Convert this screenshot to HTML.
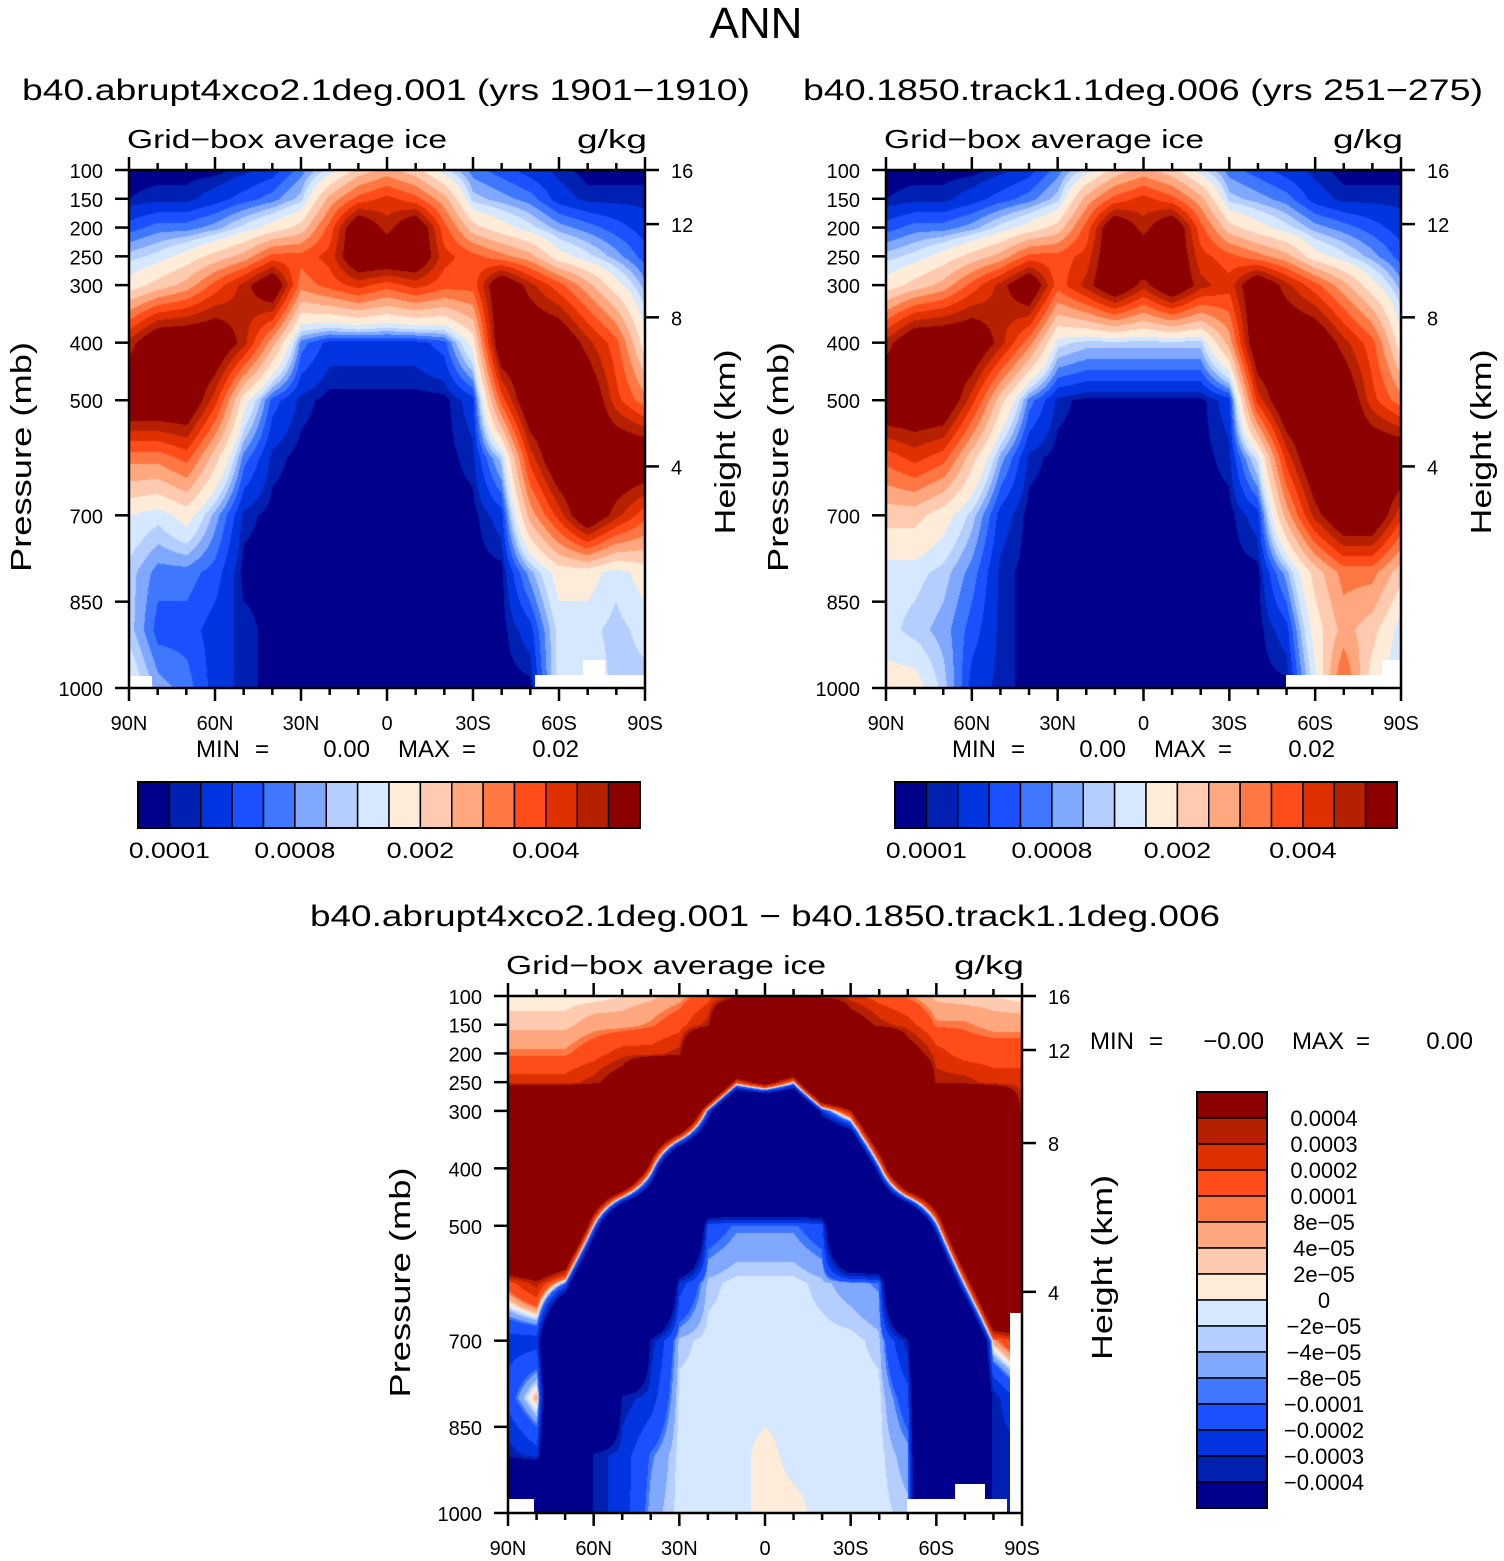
<!DOCTYPE html>
<html><head><meta charset="utf-8"><style>
html,body{margin:0;padding:0;background:#fff;}
#wrap{position:relative;width:1504px;height:1561px;overflow:hidden;}
canvas{position:absolute;}
svg{position:absolute;left:0;top:0;}
text{font-family:"Liberation Sans",sans-serif;fill:#000;}
</style></head><body>
<div id="wrap">
<canvas id="c1" width="516" height="518" style="left:129px;top:170px"></canvas>
<canvas id="c2" width="515" height="518" style="left:886px;top:170px"></canvas>
<canvas id="c3" width="514" height="517" style="left:508px;top:996px"></canvas>
<svg id="ov" width="1504" height="1561"></svg>
</div>
<script>
// ---- data ----
const lats = [90,80,70,60,50,40,30,20,10,0,-10,-20,-30,-40,-50,-60,-70,-80,-90];
const pres = [100,150,200,250,300,400,500,600,700,800,900,1000];
const latTickLabels = ["90N","60N","30N","0","30S","60S","90S"];
const presTickLabels = [100,150,200,250,300,400,500,700,850,1000];
const kmTicks = [[16,100],[12,194],[8,356],[4,615]]; // km label, pressure at that height
// field in 1e-4 g/kg, one row per latitude (columns = pressure levels)
const fieldA = [
[0.5,1,5,11,17,47,60,32,15,11,11,15],
[0.5,1.5,7,13,22,60,60,32,13,7,5,9],
[0.5,1.5,7,17,27,60,60,37,17,7,5,7],
[0.5,3,9,22,37,60,42,22,9,5,3,3],
[1.5,5,13,27,47,47,17,7,1.5,0.5,1.5,1.5],
[3,7,17,37,60,27,5,1.5,0.5,0.5,0.5,0.5],
[7,11,22,37,32,7,1.5,0.5,0.5,0.5,0.5,0.5],
[13,27,37,42,37,3,0.5,0.5,0.5,0.5,0.5,0.5],
[22,37,60,60,42,3,0.5,0.5,0.5,0.5,0.5,0.5],
[27,42,47,60,37,3,0.5,0.5,0.5,0.5,0.5,0.5],
[22,37,60,60,42,3,0.5,0.5,0.5,0.5,0.5,0.5],
[13,27,37,42,37,5,0.5,0.5,0.5,0.5,0.5,0.5],
[7,11,22,37,37,17,3,1.5,0.5,0.5,0.5,0.5],
[5,9,17,32,60,60,37,11,3,0.5,0.5,0.5],
[3,7,13,27,47,60,60,42,27,9,3,0.5],
[1.5,3,9,17,37,60,60,60,42,17,13,13],
[0.5,1.5,7,13,27,47,60,60,60,17,13,15],
[0.5,1.5,5,9,17,37,42,60,47,13,11,11],
[0.5,1.5,3,5,9,17,32,60,37,17,13,11]];
const fieldB = [
[0.5,1,5,11,17,47,60,37,22,13,13,17],
[0.5,1.5,7,13,22,60,60,42,22,13,11,17],
[0.5,1.5,7,17,27,60,60,37,17,11,9,11],
[0.5,3,9,22,37,60,42,22,11,7,5,3],
[1.5,5,13,27,47,47,22,9,3,1.5,1.5,1.5],
[3,7,17,37,60,32,7,1.5,0.5,0.5,0.5,0.5],
[7,11,22,37,37,13,1.5,0.5,0.5,0.5,0.5,0.5],
[13,27,37,42,47,11,0.5,0.5,0.5,0.5,0.5,0.5],
[22,37,60,60,60,11,0.5,0.5,0.5,0.5,0.5,0.5],
[27,42,47,60,47,11,0.5,0.5,0.5,0.5,0.5,0.5],
[22,37,60,60,60,11,0.5,0.5,0.5,0.5,0.5,0.5],
[13,27,37,42,47,11,0.5,0.5,0.5,0.5,0.5,0.5],
[7,11,22,37,42,27,3,1.5,0.5,0.5,0.5,0.5],
[5,9,17,32,60,60,42,13,3,0.5,0.5,0.5],
[3,7,13,27,47,60,60,42,27,9,3,0.5],
[1.5,3,9,17,37,60,60,60,47,22,17,13],
[0.5,1.5,7,13,27,47,60,60,60,32,27,37],
[0.5,1.5,5,9,17,37,42,60,60,32,22,17],
[0.5,1.5,3,5,9,17,32,60,42,22,13,11]];
// difference in 1e-5 g/kg
const fieldD = [
[1,3,9,25,200,200,200,15,-25,-15,-35,-200],
[1,3,9,25,200,200,200,35,-25,6,-25,-200],
[1,3,9,25,200,200,200,-9,-200,-200,-200,-200],
[1,6,15,35,200,200,-3,-200,-200,-200,-35,-35],
[2,6,25,60,200,200,-200,-200,-200,-35,-25,-25],
[3,9,25,200,200,15,-200,-200,-35,-25,-9,-6],
[6,15,35,200,200,-200,-200,-25,-3,-1,-1,-1],
[15,35,200,200,-15,-200,-15,-3,-1,-1,-1,-1],
[35,200,200,15,-200,-200,-9,-1,-1,-1,-1,-1],
[200,200,200,60,-200,-200,-9,-1,-1,-1,1,1],
[200,200,200,1,-200,-200,-9,-1,-1,-1,-1,1],
[35,200,200,200,-25,-200,-15,-3,-1,-1,-1,-1],
[25,60,200,200,35,-200,-200,-6,-1,-1,-1,-1],
[15,35,200,200,200,-15,-200,-9,-3,-1,-1,-1],
[9,25,60,200,200,200,-200,-200,-35,-15,-6,-3],
[3,9,25,35,200,200,-15,-200,-200,-200,-200,-200],
[2,9,15,35,200,200,200,3,-200,-200,-200,-200],
[2,6,15,25,200,200,200,200,6,-35,-35,-35],
[1,6,15,25,35,200,200,200,25,-15,-35,-35]];
const levelsAbs = [1,2,4,6,8,10,12,15,20,25,30,35,40,45,50];
const levelsDiff = [-40,-30,-20,-10,-8,-4,-2,0,2,4,8,10,20,30,40];
const diffLabels = ["0.0004","0.0003","0.0002","0.0001","8e\u221205","4e\u221205","2e\u221205","0","\u22122e\u221205","\u22124e\u221205","\u22128e\u221205","\u22120.0001","\u22120.0002","\u22120.0003","\u22120.0004"];
const absLabels = ["0.0001","0.0008","0.002","0.004"];
const colors = ["#00008c","#0020b2","#0034de","#1a50ff","#3f78ff","#80a8ff","#b4ceff","#d6e8ff","#ffecd8","#ffcbb0","#ffa880","#ff7844","#ff4c18","#e03000","#b42000","#8c0000"];

function hex(c){return [parseInt(c.slice(1,3),16),parseInt(c.slice(3,5),16),parseInt(c.slice(5,7),16)];}
const rgb = colors.map(hex);
function render(id, field, levels){
  const cv=document.getElementById(id), ctx=cv.getContext('2d');
  const W=cv.width,H=cv.height, img=ctx.createImageData(W,H);
  for(let py=0;py<H;py++){
    const p=100+900*py/(H-1);
    let r=0; while(r<pres.length-2 && pres[r+1]<p) r++;
    const fy=(p-pres[r])/(pres[r+1]-pres[r]);
    for(let px=0;px<W;px++){
      const lat=90-180*px/(W-1);
      let c=Math.min(17,Math.floor((90-lat)/10)); const fx=((90-lat)-c*10)/10;
      const v=(field[c][r]*(1-fx)+field[c+1][r]*fx)*(1-fy)+(field[c][r+1]*(1-fx)+field[c+1][r+1]*fx)*fy;
      let k=0; while(k<levels.length && v>=levels[k]) k++;
      const o=(py*W+px)*4, col=rgb[k];
      img.data[o]=col[0];img.data[o+1]=col[1];img.data[o+2]=col[2];img.data[o+3]=255;
    }
  }
  ctx.putImageData(img,0,0);
}
render('c1',fieldA,levelsAbs);
render('c2',fieldB,levelsAbs);
render('c3',fieldD,levelsDiff);

// ---- overlay ----
const NS="http://www.w3.org/2000/svg", svg=document.getElementById('ov');
function el(tag,attrs,txt){const e=document.createElementNS(NS,tag);for(const k in attrs)e.setAttribute(k,attrs[k]);if(txt!==undefined)e.textContent=txt;svg.appendChild(e);return e;}
function T(x,y,s,size,anchor,name,extra){const e=el('text',Object.assign({x:x,y:y,'font-size':size,'text-anchor':anchor||'start'},extra||{}),s);return e;}
const SG={lengthAdjust:'spacingAndGlyphs'};

T(756,38,"ANN",44,"middle","figure-title");
function panel(x0,y0,w,h,title,tcx,tlen,pfx){
  const xs=lat=>x0+(90-lat)/180*w, ys=p=>y0+(p-100)/900*h;
  T(tcx,100+(y0-170),title,30,"middle",pfx+"-title",Object.assign({textLength:tlen},SG));
  T(x0-2,y0-22,"Grid\u2212box average ice",26,"start",pfx+"-variable-label",Object.assign({textLength:320},SG));
  T(x0+w+2,y0-22,"g/kg",26,"end",pfx+"-units-label",Object.assign({textLength:70},SG));
  for(let lat=90;lat>=-90;lat-=10){
    const x=xs(lat), L=(lat%30===0)?13:7;
    const a=el('line',{x1:x,x2:x,y1:y0,y2:y0-L,stroke:'#000','stroke-width':2.5});
    
    const b=el('line',{x1:x,x2:x,y1:y0+h,y2:y0+h+L,stroke:'#000','stroke-width':2.5});
    
  }
  latTickLabels.forEach((s,i)=>{T(xs(90-30*i),y0+h+42,s,20,"middle",pfx+"-x-tick-label");});
  presTickLabels.forEach(p=>{
    const y=ys(p);
    const l=el('line',{x1:x0,x2:x0-14,y1:y,y2:y,stroke:'#000','stroke-width':2.5});
    
    T(x0-26,y+8,String(p),20,"end",pfx+"-y-tick-label");
  });
  kmTicks.forEach(k=>{
    const y=ys(k[1]);
    const l=el('line',{x1:x0+w,x2:x0+w+14,y1:y,y2:y,stroke:'#000','stroke-width':2.5});
    
    T(x0+w+26,y+8,String(k[0]),20,"start",pfx+"-km-tick-label");
  });
  const yc=y0+h/2+1;
  T(0,0,"Pressure (mb)",29,"middle",pfx+"-y-axis-title",Object.assign({transform:`translate(${x0-98},${yc+27}) rotate(-90)`,textLength:230},SG));
  T(0,0,"Height (km)",29,"middle",pfx+"-right-axis-title",Object.assign({transform:`translate(${x0+w+90},${yc+12}) rotate(-90)`,textLength:185},SG));
}
panel(129,170,516,518,"b40.abrupt4xco2.1deg.001 (yrs 1901\u22121910)",386,728,"left");
panel(886,170,515,518,"b40.1850.track1.1deg.006 (yrs 251\u2212275)",1143,680,"right");
panel(508,996,514,517,"b40.abrupt4xco2.1deg.001 \u2212 b40.1850.track1.1deg.006",765,910,"diff");

function minmax(xo,y,minv,maxv,pfx){
  T(xo,y,"MIN",24,"start",pfx+"-min-label");
  T(xo+66,y,"=",24,"middle",pfx+"-min-eq");
  T(xo+174,y,minv,24,"end",pfx+"-min-value");
  T(xo+202,y,"MAX",24,"start",pfx+"-max-label");
  T(xo+273,y,"=",24,"middle",pfx+"-max-eq");
  T(xo+383,y,maxv,24,"end",pfx+"-max-value");
}
minmax(196,757,"0.00","0.02","left");
minmax(952,757,"0.00","0.02","right");
minmax(1090,1049,"\u22120.00","0.00","diff");

function hbar(x0,y0,pfx){
  const bw=502/16;
  colors.forEach((c,i)=>{
    const r=el('rect',{x:x0+i*bw,y:y0,width:bw,height:46,fill:c,stroke:'#000','stroke-width':1.5});
    
  });
  const f=el('rect',{x:x0,y:y0,width:502,height:46,fill:'none',stroke:'#000','stroke-width':2});
  
  absLabels.forEach((s,i)=>{T(x0+(1+4*i)*bw,y0+76,s,22,"middle",pfx+"-colorbar-label",Object.assign({textLength:s.length*13.5},SG));});
}
hbar(138,782,"left");
hbar(895,782,"right");
(function(){
  const x0=1197,y0=1092,bh=416/16;
  colors.slice().reverse().forEach((c,i)=>{
    const r=el('rect',{x:x0,y:y0+i*bh,width:70,height:bh,fill:c,stroke:'#000','stroke-width':1.5});
    
  });
  const f=el('rect',{x:x0,y:y0,width:70,height:416,fill:'none',stroke:'#000','stroke-width':2});
  
  diffLabels.forEach((s,i)=>{T(1324,y0+(i+1)*bh+8,s,22,"middle","diff-colorbar-label");});
})();
// missing-data (topography) masks
[[535,675,110,13],[583,660,22,28],[130,676,22,12],[1286,675,115,13],[1382,660,19,28],[508,1499,26,14],[907,1499,100,14],[955,1484,30,16],[1010,1313,12,200]].forEach(r=>{
  const m=el('rect',{x:r[0],y:r[1],width:r[2],height:r[3],fill:'#fff'});
  
});
[[129,170,516,518],[886,170,515,518],[508,996,514,517]].forEach(f=>{
  const r=el('rect',{x:f[0],y:f[1],width:f[2],height:f[3],fill:'none',stroke:'#000','stroke-width':2.5});
  
});
</script>
</body></html>
